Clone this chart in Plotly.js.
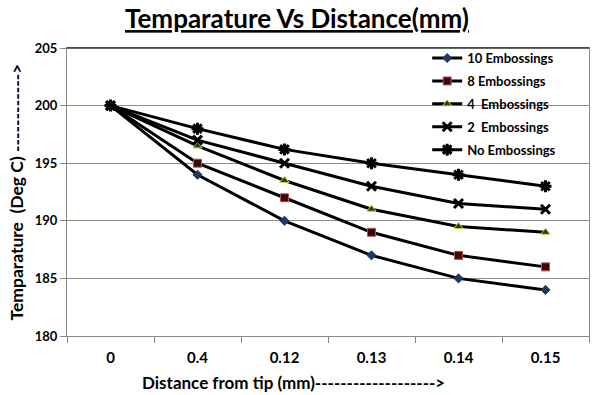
<!DOCTYPE html>
<html><head><meta charset="utf-8">
<script src="https://cdn.plot.ly/plotly-3.0.1.min.js"></script>
<style>html,body{margin:0;padding:0;background:#fff}#c{width:594px;height:395px}</style>
</head><body><div id="c"></div>
<script>
const categories = ["0", "0.4", "0.12", "0.13", "0.14", "0.15"];
const seriesNames = ["10 Embossings", "8 Embossings", "4  Embossings", "2  Embossings", "No Embossings"];
const emb10 = [200, 194, 190, 187, 185, 184];
const emb8 = [200, 195, 192, 189, 187, 186];
const emb4 = [200, 196.5, 193.5, 191, 189.5, 189];
const emb2 = [200, 197, 195, 193, 191.5, 191];
const emb0 = [200, 198, 196.2, 195, 194, 193];
const yTicks = [180, 185, 190, 195, 200, 205];

const F = "Lato, 'Open Sans', sans-serif";
const markers = [
  {symbol: "diamond", size: 7, color: "#1f3864", line: {color: "#1f3864", width: 1}},
  {symbol: "square", size: 8, color: "#3a0a0a", line: {color: "#c0504d", width: 1}},
  {symbol: "triangle-up", size: 8, color: "#2f3a10", line: {color: "#c8d24a", width: 1}},
  {symbol: "x-thin-open", size: 9, color: "#000", line: {color: "#000", width: 3}},
  {symbol: "asterisk-open", size: 10, color: "#000", line: {color: "#000", width: 3}}
];
const data = [emb10, emb8, emb4, emb2, emb0].map((y, i) => ({
  x: categories, y: y, name: seriesNames[i], type: "scatter", mode: "lines+markers",
  legendgroup: "g" + i,
  line: {color: "#000", width: 3}, marker: markers[i]
}));

const layout = {
  width: 594, height: 395,
  margin: {l: 67, r: 5, t: 48, b: 59},
  paper_bgcolor: "#fff", plot_bgcolor: "#fff",
  font: {family: F, color: "#000"},
  title: {text: "<b>Temparature Vs Distance(mm)</b>", font: {family: F, size: 26, color: "#000", lineposition: "under"},
          x: 0.5, xanchor: "center", y: 0.952, yanchor: "middle"},
  xaxis: {type: "category", categoryorder: "array", categoryarray: categories, range: [-0.5, 5.5],
          tickson: "boundaries", ticks: "outside", ticklen: 6, tickcolor: "#888",
          showline: true, linecolor: "#888", mirror: true, showgrid: false, ticklabelstandoff: 8,
          tickfont: {family: F, size: 15, color: "#000", weight: "bold"}, zeroline: false},
  yaxis: {range: [180, 205], tickvals: yTicks, ticks: "outside", ticklen: 6, tickcolor: "#888",
          showline: true, linecolor: "#888", mirror: true, showgrid: true, gridcolor: "#8c8c8c", gridwidth: 1,
          tickfont: {family: F, size: 13, color: "#000", weight: "bold"}, zeroline: false,
          title: {text: "<b>Temparature  (Deg C) ------------></b>", font: {family: F, size: 17.5, color: "#000"}, standoff: 6}},
  legend: {x: 0.69, y: 1.017, xanchor: "left", yanchor: "top", bgcolor: "rgba(0,0,0,0)",
           font: {family: F, size: 13, color: "#000", weight: "bold"}, tracegroupgap: 3, itemwidth: 30},
  shapes: [{type: "line", xref: "paper", yref: "paper", x0: 0, x1: 1, y0: 1, y1: 1, line: {color: "#333", width: 1.5}}],
  annotations: [{text: "<b>Distance from tip (mm)-------------------></b>", xref: "paper", yref: "paper",
                 x: 0.434, y: -0.163, xanchor: "center", yanchor: "middle", showarrow: false,
                 font: {family: F, size: 17, color: "#000"}}]
};
Plotly.newPlot("c", data, layout, {staticPlot: true, displayModeBar: false});
</script></body></html>
